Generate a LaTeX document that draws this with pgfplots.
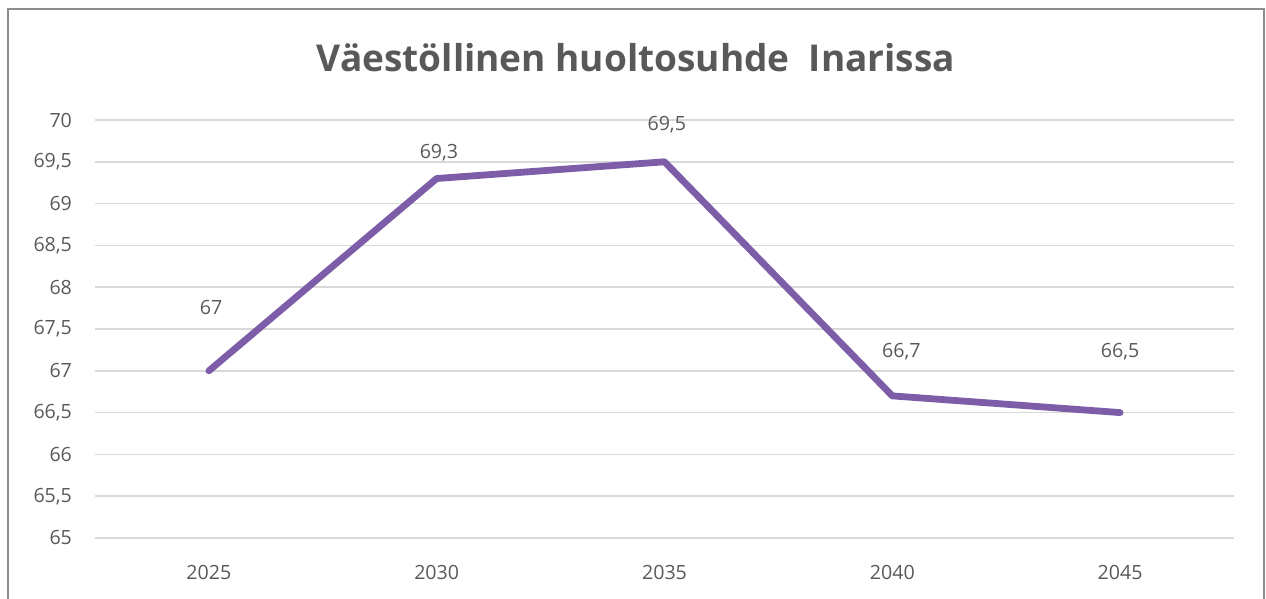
\documentclass[border=0pt]{standalone}
\usepackage{fontspec}
\setmainfont{Open Sans}
\usepackage{pgfplots}
\pgfplotsset{compat=1.18}
\definecolor{linepurple}{RGB}{125,92,168}
\definecolor{txtgray}{RGB}{89,89,89}
\definecolor{gridgray}{RGB}{217,217,217}
\definecolor{framegray}{RGB}{140,140,140}

\begin{document}
\begin{tikzpicture}
\path[use as bounding box] (0pt,0pt) rectangle (633pt,299.5pt);
% frame (bottom edge falls outside the picture)
\draw[framegray, line width=1pt] (4pt,-1pt) -- (4pt,295pt) -- (632pt,295pt) -- (632pt,-1pt);
\node[font=\bfseries\fontsize{18.5}{22}\selectfont, text=txtgray] at (318pt,270.5pt) {Väestöllinen huoltosuhde\ \ Inarissa};

\begin{axis}[
  at={(47.5pt,30.5pt)}, anchor=south west,
  scale only axis, width=569.5pt, height=209pt,
  xmin=-0.5, xmax=4.5, ymin=65, ymax=70,
  xtick={0,1,2,3,4}, xticklabels={2025,2030,2035,2040,2045},
  ytick={65,65.5,...,70},
  axis line style={draw=none}, major tick length=0pt,
  ymajorgrids, grid style={gridgray, line width=0.75pt},
  ticklabel style={font=\fontsize{9.8}{12}\selectfont, text=txtgray},
  /pgf/number format/use comma,
  /pgf/number format/assume math mode=true,
  xticklabel style={yshift=-10pt},
  yticklabel style={xshift=-8pt},
  clip=false,
]
\addplot[linepurple, line width=3.4pt, line join=round, line cap=round] table[x=x, y=y] {
x y
0 67.0
1 69.3
2 69.5
3 66.7
4 66.5
};
% data labels, placed above each point
\addplot[draw=none, mark=none, point meta=explicit symbolic,
  nodes near coords, nodes near coords style={anchor=center, font=\fontsize{9.8}{12}\selectfont, text=txtgray}]
  table[x=x, y=y, meta=lab] {
x y lab
0.01 67.76 67
1.01 69.61 {69,3}
2.01 69.95 {69,5}
3.04 67.23 {66,7}
4.00 67.23 {66,5}
};
\end{axis}
\end{tikzpicture}
\end{document}
